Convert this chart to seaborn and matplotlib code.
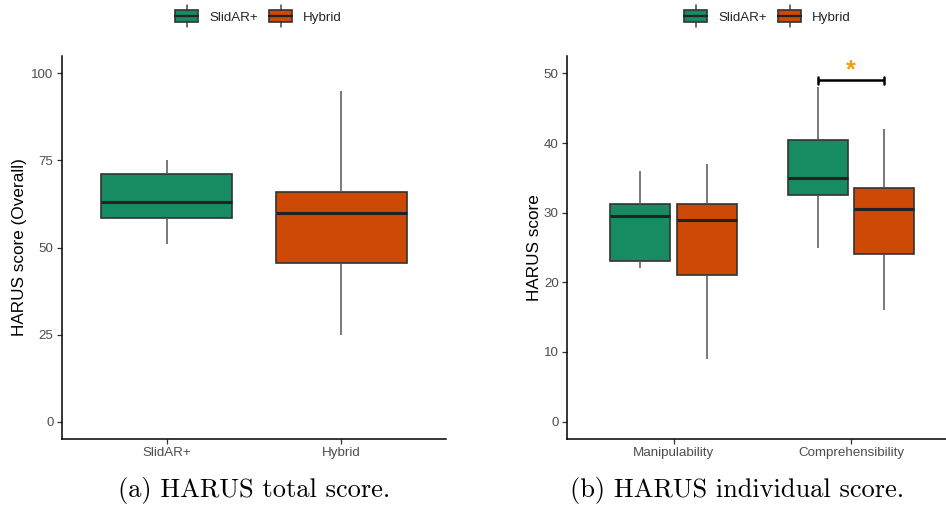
import numpy as np
import pandas as pd
import matplotlib
matplotlib.use("Agg")
import matplotlib.pyplot as plt
import seaborn as sns
from matplotlib.legend_handler import HandlerBase
from matplotlib.patches import Patch, Rectangle
from matplotlib.lines import Line2D

# ---------------- data (five-number summaries) ----------------
techniques = ["SlidAR+", "Hybrid"]
dimensions = ["Manipulability", "Comprehensibility"]

overall_slidar = [51, 58.5, 63, 71, 75]
overall_hybrid = [25, 45.5, 60, 66, 95]

manip_slidar = [22, 23, 29.5, 31.2, 36]
manip_hybrid = [9, 21, 29, 31.2, 37]
comp_slidar = [25, 32.5, 35, 40.5, 48]
comp_hybrid = [16, 24, 30.5, 33.5, 42]

overall_ticks = [0, 25, 50, 75, 100]
indiv_ticks = [0, 10, 20, 30, 40, 50]

sig_dimension = "Comprehensibility"
sig_y = 49
sig_label = "*"

captions = ["(a) HARUS total score.", "(b) HARUS individual score."]

# ---------------- tables ----------------
df_overall = pd.DataFrame({
    "technique": ["SlidAR+"] * len(overall_slidar) + ["Hybrid"] * len(overall_hybrid),
    "score": overall_slidar + overall_hybrid,
})
rows = []
for dim, s_vals, h_vals in [("Manipulability", manip_slidar, manip_hybrid),
                            ("Comprehensibility", comp_slidar, comp_hybrid)]:
    rows += [(dim, "SlidAR+", v) for v in s_vals]
    rows += [(dim, "Hybrid", v) for v in h_vals]
df_ind = pd.DataFrame(rows, columns=["dimension", "technique", "score"])

# ---------------- style ----------------
sns.set_theme(style="white")
plt.rcParams["font.family"] = ["Liberation Sans", "DejaVu Sans"]

palette = {"SlidAR+": "#178C63", "Hybrid": "#CC4A05"}
EDGE = "#333333"
TICKCOL = "#4D4D4D"
TICKSIZE = 9.6

fig = plt.figure(figsize=(9.46, 5.08), dpi=100)
ax1 = fig.add_axes([62 / 946, 1 - 439 / 508, 384 / 946, 383 / 508])
ax2 = fig.add_axes([567 / 946, 1 - 439 / 508, 390.6 / 946, 383 / 508])

box_kw = dict(
    linewidth=1.2, linecolor=EDGE, saturation=1,
    whiskerprops=dict(color="#555555", linewidth=1.1),
    capprops=dict(linewidth=0),
    medianprops=dict(color="#222222", linewidth=2.2),
    boxprops=dict(edgecolor=EDGE, linewidth=1.2),
    showfliers=False,
)

sns.boxplot(data=df_overall, x="technique", y="score", hue="technique",
            order=techniques, hue_order=techniques, palette=palette,
            width=0.75, dodge=False, legend=False, ax=ax1, **box_kw)
sns.boxplot(data=df_ind, x="dimension", y="score", hue="technique",
            order=dimensions, hue_order=techniques, palette=palette,
            width=0.75, gap=0.1, dodge=True, legend=False, ax=ax2, **box_kw)

# significance bracket
xi = dimensions.index(sig_dimension)
off = 0.75 / 4
ax2.plot([xi - off, xi + off], [sig_y, sig_y], color="black", lw=1.8, solid_capstyle="butt")
for xx in (xi - off, xi + off):
    ax2.plot([xx, xx], [sig_y - 0.5, sig_y + 0.5], color="black", lw=1.8)
ax2.text(xi, sig_y + 1.4, sig_label, color="#F39C12", ha="center", va="center",
         fontsize=18, fontweight="bold")

for ax, ticks, ylabel, lim, lx in [
    (ax1, overall_ticks, "HARUS score (Overall)", (-5, 105), (27 - 62) / 384),
    (ax2, indiv_ticks, "HARUS score", (-2.5, 52.5), (542 - 567) / 390.6),
]:
    ax.set_xlim(-0.6, 1.6)
    ax.set_ylim(*lim)
    ax.set_yticks(ticks)
    ax.set_xlabel("")
    ax.set_ylabel(ylabel, fontsize=12.3, color="black")
    ax.yaxis.set_label_coords(lx, 0.5)
    for s in ("top", "right"):
        ax.spines[s].set_visible(False)
    for s in ("left", "bottom"):
        ax.spines[s].set_color("black")
        ax.spines[s].set_linewidth(1.1)
    ax.tick_params(axis="both", which="both", length=3.5, width=0.9, color="#333333",
                   labelsize=TICKSIZE, labelcolor=TICKCOL, pad=2.5, left=True, bottom=True)
    ax.grid(False)


class BoxHandler(HandlerBase):
    def create_artists(self, legend, orig_handle, xdescent, ydescent, width, height,
                       fontsize, trans):
        fc = orig_handle.get_facecolor()
        x0, y0 = -xdescent, -ydescent
        cx = x0 + width / 2
        w = Line2D([cx, cx], [y0 - 0.45 * height, y0 + 1.45 * height],
                   color="#444444", lw=1.1, transform=trans)
        r = Rectangle((x0, y0), width, height, facecolor=fc, edgecolor=EDGE,
                      lw=1.2, transform=trans)
        m = Line2D([x0, x0 + width], [y0 + height / 2] * 2, color="#222222",
                   lw=1.6, transform=trans)
        return [w, r, m]


handles = [Patch(facecolor=palette[t], label=t) for t in techniques]
for cx in (258.5 / 946, 767.5 / 946):
    fig.legend(handles=handles, labels=techniques, loc="center",
               bbox_to_anchor=(cx, 1 - 17 / 508), ncol=2, frameon=False,
               fontsize=9.6, handlelength=1.75, handleheight=0.95,
               handletextpad=0.8, columnspacing=0.85,
               handler_map={Patch: BoxHandler()})

fig.text(254 / 946, 1 - 490 / 508, captions[0], family="cmr10", fontsize=19,
         ha="center", va="center", color="black")
fig.text(737 / 946, 1 - 490 / 508, captions[1], family="cmr10", fontsize=19,
         ha="center", va="center", color="black")

fig.savefig("out.png", dpi=100, facecolor="white")
